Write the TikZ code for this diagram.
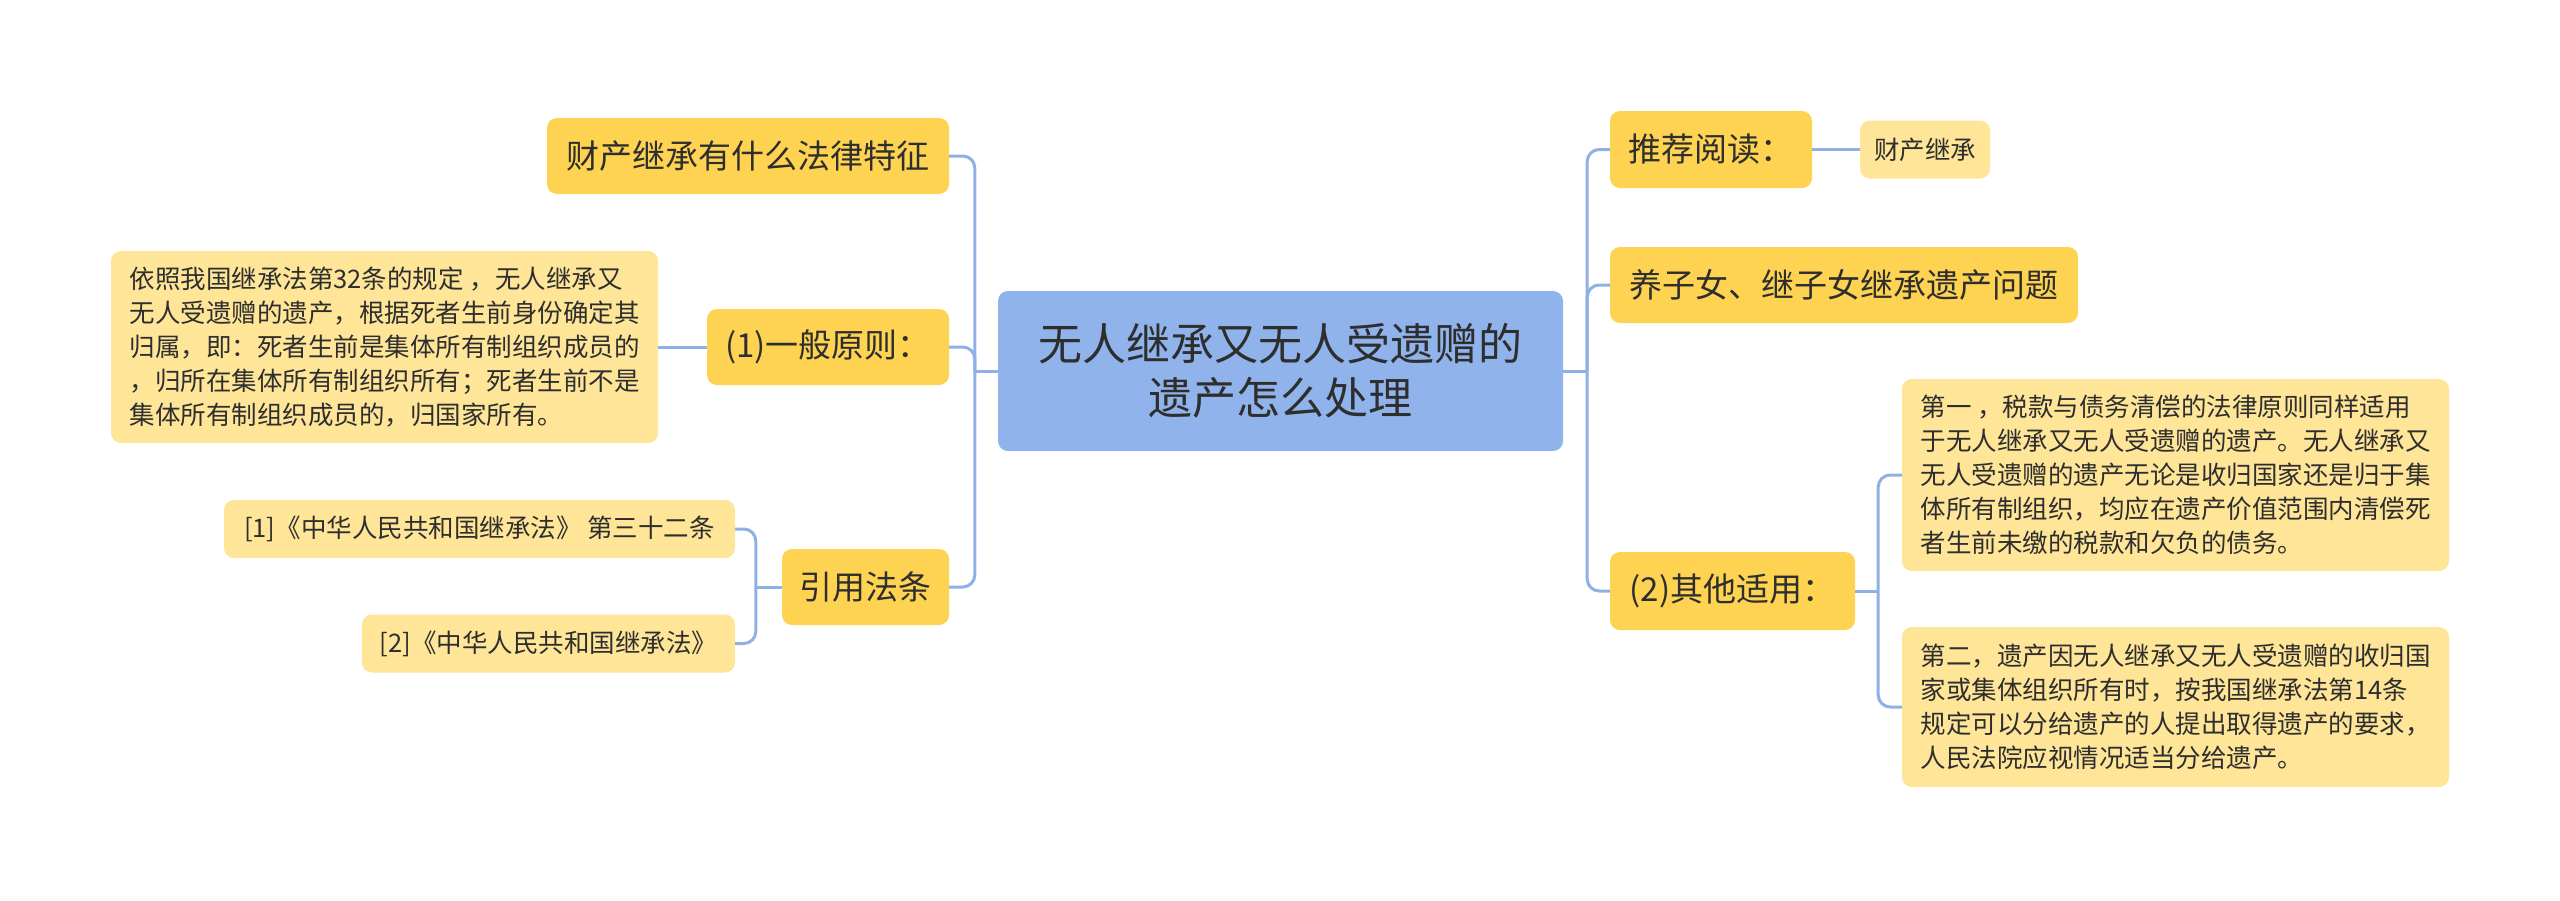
\documentclass[tikz,border=0pt]{standalone}
\usepackage{fontspec}
\setmainfont{Noto Sans CJK SC}
\definecolor{rootc}{HTML}{8FB3EA}
\definecolor{lonec}{HTML}{FED352}
\definecolor{leafc}{HTML}{FEE598}
\definecolor{linec}{HTML}{8FB0E6}
\definecolor{txt}{HTML}{2E2E2E}
\begin{document}
\begin{tikzpicture}[x=1pt,y=-1pt,
  box/.style={rounded corners=10pt, inner sep=0pt, text=txt, align=center},
  rootbox/.style={box, fill=rootc, font=\fontsize{44}{54}\selectfont},
  lonebox/.style={box, fill=lonec, font=\fontsize{33}{40}\selectfont},
  leafbox/.style={box, fill=leafc, font=\fontsize{25.5}{34}\selectfont},
  conn/.style={draw=linec, line width=3pt, rounded corners=12pt}]
\useasboundingbox[fill=white] (0,0) rectangle (2560,900);

% root
\node[rootbox, minimum width=565pt, minimum height=160pt] (root) at (1280.5,371) {无人继承又无人受遗赠的\\遗产怎么处理};

% left level 1
\node[lonebox, minimum width=402pt, minimum height=76pt] (n1) at (748,156) {财产继承有什么法律特征};
\node[lonebox, minimum width=242pt, minimum height=76pt] (n2) at (828,347) {(1)一般原则：};
\node[lonebox, minimum width=167pt, minimum height=76pt] (n3) at (865.5,587) {引用法条};

% left leaves
\node[leafbox, align=left, minimum width=547pt, minimum height=192pt] (l1) at (384.5,347) {依照我国继承法第32条的规定 ，无人继承又\\无人受遗赠的遗产，根据死者生前身份确定其\\归属，即：死者生前是集体所有制组织成员的\\，归所在集体所有制组织所有；死者生前不是\\集体所有制组织成员的，归国家所有。};
\node[leafbox, minimum width=511pt, minimum height=58pt] (l2) at (479.5,529) {[1]《中华人民共和国继承法》 第三十二条};
\node[leafbox, minimum width=373pt, minimum height=58pt] (l3) at (548.5,643.5) {[2]《中华人民共和国继承法》};

% right level 1
\node[lonebox, minimum width=202pt, minimum height=77pt] (r1) at (1711,149.5) {推荐阅读：};
\node[lonebox, minimum width=468pt, minimum height=76pt] (r2) at (1844,285) {养子女、继子女继承遗产问题};
\node[lonebox, minimum width=245pt, minimum height=78pt] (r3) at (1732.5,591) {(2)其他适用：};

% right leaves
\node[leafbox, minimum width=130pt, minimum height=58pt] (r1a) at (1925,149.5) {财产继承};
\node[leafbox, align=left, minimum width=547pt, minimum height=192pt] (r3a) at (2175.5,475) {第一 ，税款与债务清偿的法律原则同样适用\\于无人继承又无人受遗赠的遗产。无人继承又\\无人受遗赠的遗产无论是收归国家还是归于集\\体所有制组织，均应在遗产价值范围内清偿死\\者生前未缴的税款和欠负的债务。};
\node[leafbox, align=left, minimum width=547pt, minimum height=160pt] (r3b) at (2175.5,707) {第二，遗产因无人继承又无人受遗赠的收归国\\家或集体组织所有时，按我国继承法第14条\\规定可以分给遗产的人提出取得遗产的要求，\\人民法院应视情况适当分给遗产。};

% connectors root-left
\draw[conn] (root.west) -- ([xshift=-23pt]root.west);
\draw[conn] ([xshift=-23pt]root.west) |- (n1.east);
\draw[conn] ([xshift=-23pt]root.west) |- (n2.east);
\draw[conn] ([xshift=-23pt]root.west) |- (n3.east);
% connectors root-right
\draw[conn] (root.east) -- ([xshift=24pt]root.east);
\draw[conn] ([xshift=24pt]root.east) |- (r1.west);
\draw[conn] ([xshift=24pt]root.east) |- (r2.west);
\draw[conn] ([xshift=24pt]root.east) |- (r3.west);
% sub-branches
\draw[conn] (n2.west) -- (l1.east |- n2.west);
\draw[conn] (n3.west) -- ([xshift=-26pt]n3.west);
\draw[conn] ([xshift=-26pt]n3.west) |- (l2.east);
\draw[conn] ([xshift=-26pt]n3.west) |- (l3.east);
\draw[conn] (r1.east) -- (r1a.west);
\draw[conn] (r3.east) -- ([xshift=23pt]r3.east);
\draw[conn] ([xshift=23pt]r3.east) |- (r3a.west);
\draw[conn] ([xshift=23pt]r3.east) |- (r3b.west);
\end{tikzpicture}
\end{document}
